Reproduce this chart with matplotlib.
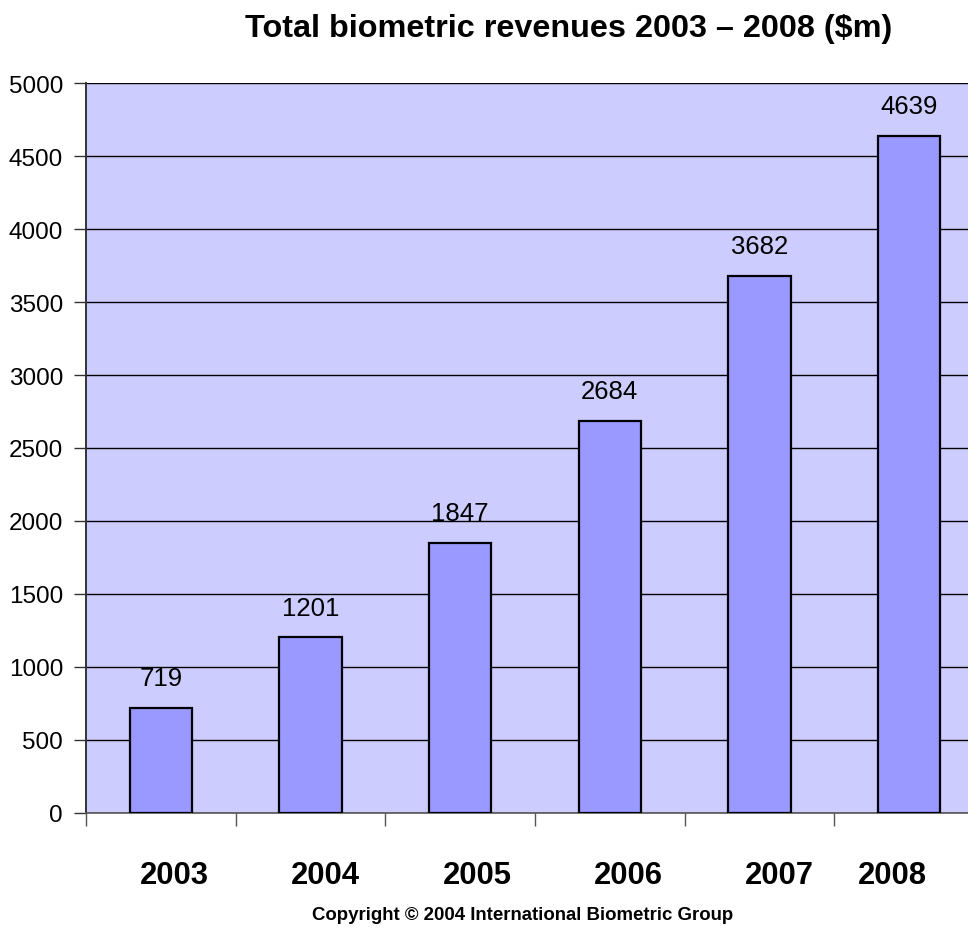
import matplotlib
matplotlib.use("Agg")
import matplotlib.pyplot as plt
from matplotlib.ticker import FixedLocator, MultipleLocator

plt.rcParams["font.family"] = ["Liberation Sans", "DejaVu Sans"]

years = ["2003", "2004", "2005", "2006", "2007", "2008"]
revenues = [719, 1201, 1847, 2684, 3682, 4639]
title = "Total biometric revenues 2003 \u2013 2008 ($m)"
footer = "Copyright \u00a9 2004 International Biometric Group"

# horizontal nudges (pixels) for the category labels under the axis
label_shift_px = [14, 15, 17, 19, 20, -17]

W, H, DPI = 968, 929, 100
fig = plt.figure(figsize=(W / DPI, H / DPI), dpi=DPI)
fig.patch.set_facecolor("white")

ax_left, ax_right = 86 / W, 984 / W
ax_bottom, ax_top = 1 - 813.6 / H, 1 - 84.4 / H
ax = fig.add_axes([ax_left, ax_bottom, ax_right - ax_left, ax_top - ax_bottom])
ax.set_facecolor("#CCCCFF")

x = list(range(len(years)))
bars = ax.bar(x, revenues, width=0.415, color="#9999FF", edgecolor="black",
              linewidth=1.6, zorder=3)

ax.set_xlim(-0.5, len(years) - 0.5)
ax.set_ylim(0, 5000)
ax.yaxis.set_major_locator(MultipleLocator(500))
ax.grid(axis="y", color="black", linewidth=1.0, zorder=1)
ax.set_axisbelow(True)

for s in ("top", "right"):
    ax.spines[s].set_visible(False)
ax.spines["left"].set_color("#333333")
ax.spines["left"].set_linewidth(1.4)
ax.spines["bottom"].set_color("#555555")
ax.spines["bottom"].set_linewidth(1.2)

ax.tick_params(axis="y", direction="out", length=9, width=1.0, color="#333333",
               labelsize=17.5, pad=7.5)
ax.xaxis.set_major_locator(FixedLocator([i - 0.5 for i in range(len(years) + 1)]))
ax.tick_params(axis="x", direction="out", length=9, width=1.0, color="#555555",
               labelbottom=False)

# value labels above each bar
for rect, v in zip(bars, revenues):
    ax.annotate(str(v), (rect.get_x() + rect.get_width() / 2, v),
                xytext=(0, 21.5), textcoords="offset points",
                ha="center", va="center", fontsize=18.5, color="black")

# category labels
for i, (yr, dx) in enumerate(zip(years, label_shift_px)):
    ax.annotate(yr, (i, 0), xycoords="data", xytext=(dx * 72 / DPI, -(876 - 813.6) * 72 / DPI),
                textcoords="offset points", ha="center", va="center",
                fontsize=22.3, fontweight="bold", annotation_clip=False)

fig.text(569 / W, 1 - 29 / H, title, ha="center", va="center",
         fontsize=23.3, fontweight="bold")
fig.text(523 / W, 1 - 916 / H, footer, ha="center", va="center",
         fontsize=13.4, fontweight="bold")

fig.savefig("out.png", dpi=DPI, facecolor="white")
